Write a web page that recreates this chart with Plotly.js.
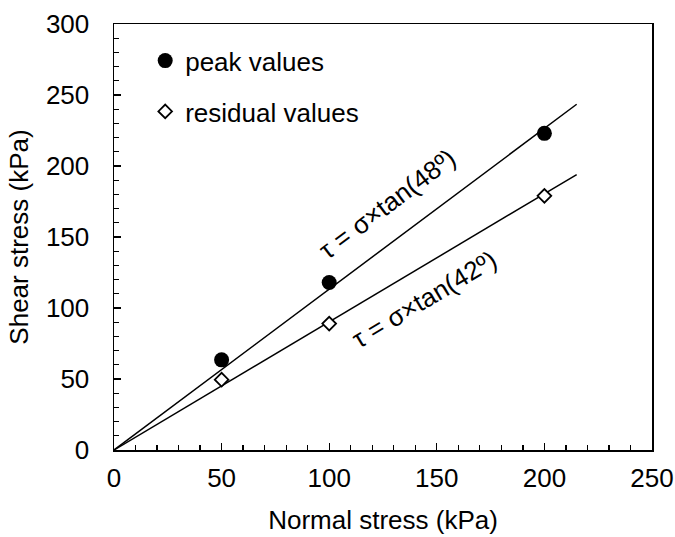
<!DOCTYPE html>
<html>
<head>
<meta charset="utf-8">
<script src="https://cdn.plot.ly/plotly-3.0.1.min.js"></script>
<style>html,body{margin:0;padding:0;background:#fff;}#chart{width:675px;height:537px;}</style>
</head>
<body>
<div id="chart"></div>
<script>
// Data
var normalStress = [50, 100, 200];
var peakValues = [63.5, 118, 223];
var residualValues = [49.5, 89, 179];
var fitX = [0, 215];
var fitPeak = [0, 243.5];
var fitResidual = [0, 194];
var xTicks = [0, 50, 100, 150, 200, 250];
var yTicks = [0, 50, 100, 150, 200, 250, 300];

var FONT = 'Arial, "Liberation Sans", sans-serif';

var traces = [
  {x: fitX, y: fitPeak, mode: 'lines', line: {color: '#000', width: 1.5}, showlegend: false, hoverinfo: 'skip'},
  {x: fitX, y: fitResidual, mode: 'lines', line: {color: '#000', width: 1.5}, showlegend: false, hoverinfo: 'skip'},
  {x: normalStress, y: peakValues, mode: 'markers', name: 'peak values', legendgroup: 'a',
   marker: {symbol: 'circle', size: 15, color: '#000'}},
  {x: normalStress, y: residualValues, mode: 'markers', name: 'residual values', legendgroup: 'b',
   marker: {symbol: 'diamond', size: 10.5, color: '#fff', line: {color: '#000', width: 1.8}}}
];

var axisCommon = {
  showgrid: false, zeroline: false, showline: true, linecolor: '#000', linewidth: 1.5,
  mirror: true, ticks: 'inside', ticklen: 7, tickwidth: 1.3, tickcolor: '#000',
  tickfont: {family: FONT, size: 26, color: '#000'},
  minor: {dtick: 10, ticks: 'inside', ticklen: 5, tickwidth: 1.3, tickcolor: '#000'}
};

var layout = {
  width: 675, height: 537,
  margin: {l: 114, r: 23, t: 24, b: 87},
  paper_bgcolor: '#fff', plot_bgcolor: '#fff',
  font: {family: FONT, size: 26, color: '#000'},
  xaxis: Object.assign({}, axisCommon, {
    range: [0, 250], tickvals: xTicks, ticktext: xTicks.map(String),
    ticklabelstandoff: 4,
    title: {text: 'Normal stress (kPa)', font: {family: FONT, size: 26, color: '#000'}, standoff: 19}
  }),
  yaxis: Object.assign({}, axisCommon, {
    range: [0, 300], tickvals: yTicks, ticktext: yTicks.map(String),
    ticklabelstandoff: 18,
    title: {text: 'Shear stress (kPa)', font: {family: FONT, size: 26, color: '#000'}, standoff: 10}
  }),
  legend: {
    x: 0.058, y: 0.969, xanchor: 'left', yanchor: 'top',
    bgcolor: 'rgba(0,0,0,0)', borderwidth: 0,
    font: {family: FONT, size: 26, color: '#000'},
    tracegroupgap: 14, itemwidth: 30
  },
  annotations: [
    {x: 127, y: 173, xref: 'x', yref: 'y', text: 'τ = σ×tan(48º)', showarrow: false,
     textangle: -37, font: {family: FONT, size: 26, color: '#000'}},
    {x: 144.5, y: 106, xref: 'x', yref: 'y', text: 'τ = σ×tan(42º)', showarrow: false,
     textangle: -31, font: {family: FONT, size: 26, color: '#000'}}
  ]
};

Plotly.newPlot('chart', traces, layout, {displayModeBar: false, staticPlot: true});
</script>
</body>
</html>
